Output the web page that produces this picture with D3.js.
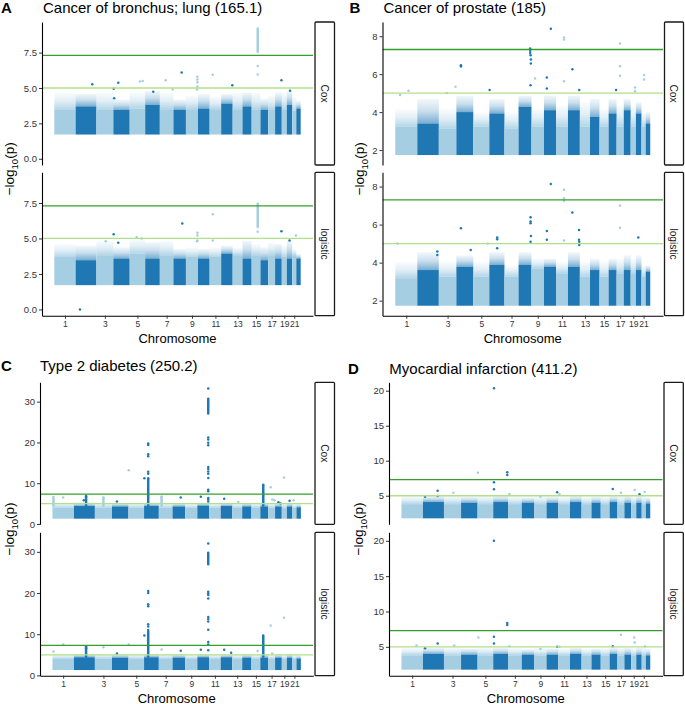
<!DOCTYPE html>
<html><head><meta charset="utf-8">
<script src="https://cdn.jsdelivr.net/npm/d3@7"></script>
<style>
body{margin:0;background:#fff}
svg{display:block}
text{font-family:"Liberation Sans",Arial,Helvetica,sans-serif}
</style>
</head><body>
<svg id="chart" width="685" height="704"></svg>
<script>
// ---------------- DATA ----------------
const chrLengthMb = [249,243,198,191,181,171,159,146,141,136,135,134,115,107,103,90,81,78,59,63,48,51];
const xTickChr = [1,3,5,7,9,11,13,15,17,19,21];
const facetNames = ["Cox","logistic"];
const genomeWideLine = 7.3;
const suggestiveLine = 5;
const panelLetters = ["A","B","C","D"];
const panelTitles = ["Cancer of bronchus; lung (165.1)","Cancer of prostate (185)","Type 2 diabetes (250.2)","Myocardial infarction (411.2)"];

const yTicksA = [0,2.5,5,7.5];
const yTicksB = [2,4,6,8];
const yTicksC = [0,10,20,30];
const yTicksD = [5,10,15,20];
const yDomainA = [-0.44,9.66];
const yDomainB = [1.21,8.75];
const yDomainC = [-0.08,34.75];
const yDomainD = [0.92,21.2];

// bottom of the dense cloud of SNPs (-log10 p)
const cloudFloorA = 1.8, cloudFloorB = 1.8, cloudFloorC = 1.6, cloudFloorD = 1.95;

// per chromosome: top of dense cloud, top of sparse fringe
const coreA_cox   = [3.45,3.7,3.45,3.45,3.55,3.8,3.5,3.45,3.5,3.55,3.5,3.9,3.5,3.7,3.5,3.45,3.5,3.7,3.5,3.8,3.4,3.55];
const fringeA_cox = [4.6,4.5,4.6,4.1,4.6,4.7,4.6,4.1,4.4,4.5,4.3,4.5,4.6,4.6,4.6,4.15,4.4,4.6,4.6,4.7,4.3,4.0];
const coreA_log   = [3.7,3.47,3.82,3.59,3.94,3.59,3.82,3.59,3.7,3.59,3.7,3.94,3.82,3.59,3.82,3.47,3.82,3.59,3.7,3.59,3.82,3.59];
const fringeA_log = [4.53,4.41,4.76,4.29,4.88,4.64,4.76,4.17,4.29,4.17,4.29,4.41,4.29,4.76,4.53,4.29,4.64,4.53,4.41,4.76,4.17,3.82];

const coreB_cox   = [3.23,3.4,3.14,4.0,3.23,3.93,3.14,4.28,3.23,4.1,3.23,4.1,3.23,3.75,3.23,3.93,3.23,4.1,3.23,3.93,3.23,3.4];
const fringeB_cox = [4.1,4.63,4.1,4.81,3.93,4.63,3.93,4.81,4.1,4.81,4.28,4.81,4.46,4.63,4.1,4.63,4.28,4.63,4.28,4.46,3.93,3.93];
const coreB_log   = [3.18,3.61,3.26,3.79,3.26,3.88,3.26,3.88,3.7,3.79,3.44,3.79,3.26,3.61,3.26,3.61,3.44,3.61,3.44,3.61,3.26,3.53];
const fringeB_log = [3.97,4.49,3.97,4.32,3.97,4.49,3.79,4.49,4.14,4.14,3.97,4.49,3.97,4.14,3.97,4.14,4.14,4.32,4.14,4.32,3.79,3.79];

const coreC_cox   = [4.0,4.4,4.0,4.3,4.0,4.4,4.0,4.3,4.0,4.5,4.0,4.4,4.0,4.3,4.0,4.3,4.0,4.3,4.0,4.3,4.0,4.1];
const fringeC_cox = [5.0,5.0,5.0,4.9,5.0,5.0,5.0,4.9,4.8,5.0,4.9,4.9,4.9,4.9,4.9,5.0,4.9,4.9,4.9,5.0,4.8,4.6];
const coreC_log   = [4.0,4.4,4.1,4.3,4.0,4.4,4.0,4.3,4.0,4.4,4.0,4.4,4.0,4.3,4.0,4.3,4.0,4.3,4.0,4.3,4.0,4.1];
const fringeC_log = [5.0,5.0,5.0,4.9,5.0,5.0,5.0,4.9,4.8,5.0,4.9,4.9,4.9,4.9,4.9,5.0,4.9,4.9,4.9,5.0,4.8,4.6];

const coreD_cox   = [3.8,4.1,3.8,4.0,3.8,4.1,3.8,4.0,3.8,4.0,3.8,4.1,3.8,4.0,3.8,4.1,3.8,4.0,3.8,4.0,3.8,3.9];
const fringeD_cox = [4.8,4.8,4.9,4.7,4.9,4.8,4.8,4.6,4.8,4.7,4.7,4.8,4.7,4.7,4.8,4.8,4.9,4.8,4.8,4.8,4.9,4.6];
const coreD_log   = [3.8,4.0,3.8,3.9,3.8,4.0,3.8,3.9,3.8,3.9,3.8,4.0,3.8,3.9,3.8,4.0,3.8,3.9,3.8,3.9,3.8,3.8];
const fringeD_log = [4.7,4.7,4.8,4.6,4.8,4.7,4.7,4.5,4.7,4.6,4.6,4.7,4.6,4.6,4.7,4.7,4.8,4.7,4.7,4.7,4.8,4.5];

// isolated SNPs above the cloud: [chromosome, fraction along chromosome, -log10 p]
const peaksA_cox = [[2,0.80,5.26],[4,0.02,4.95],[4,0.30,5.37],[4,0.05,4.27],[5,0.66,5.45],[5,0.84,5.5],[7,0.43,5.54],[7,0.94,4.9],[8,0.66,6.1],[9,0.95,5.8],[9,0.95,5.6],[9,0.95,5.4],[9,0.95,5.1],[9,0.92,4.9],[11,0.27,5.94],[12,0.97,5.19],[15,0.69,6.55],[15,0.69,5.95],[18,0.95,5.54],[20,0.6,4.8],[6,0.55,4.74]];
const peaksA_log = [[2,0.21,0.0],[4,0.02,5.3],[4,0.30,4.7],[3,0.55,4.8],[5,0.77,5.0],[5,0.45,5.1],[8,0.71,6.05],[9,0.95,5.4],[9,0.95,5.2],[9,0.95,4.85],[9,0.92,4.8],[11,0.27,6.7],[11,0.27,4.85],[15,0.69,5.47],[18,0.95,5.5],[21,0.9,5.2],[20,0.5,4.85]];
const peaksB_cox = [[8,0.9,7.35],[8,0.9,7.23],[8,0.9,7.12],[8,0.93,7.0],[8,0.95,6.77],[8,0.95,6.56],[8,0.93,5.42],[9,0.29,5.77],[10,0.57,8.4],[10,0.24,5.82],[10,0.24,5.25],[11,0.67,7.93],[11,0.67,7.83],[11,0.67,5.63],[12,0.37,6.26],[12,0.95,5.16],[4,0.27,6.47],[4,0.27,6.4],[3,0.95,5.33],[6,0.02,5.16],[17,0.48,7.62],[17,0.48,6.42],[17,0.48,5.91],[16,0.93,5.16],[21,0.6,5.95],[21,0.6,5.72],[19,0.83,5.3],[19,0.83,5.1],[1,0.6,5.12],[1,0.22,4.9],[3,0.46,5.0]];
const peaksB_log = [[10,0.57,8.13],[11,0.67,7.83],[11,0.67,7.39],[11,0.67,7.25],[11,0.67,5.16],[12,0.37,6.63],[12,0.93,5.72],[12,0.93,5.2],[12,0.95,5.1],[12,0.95,4.93],[4,0.27,5.81],[8,0.93,6.39],[8,0.93,6.16],[8,0.93,6.07],[8,0.96,5.4],[8,0.93,5.1],[10,0.24,5.67],[10,0.24,5.2],[6,0.52,5.32],[6,0.52,5.23],[6,0.52,4.76],[17,0.48,7.0],[17,0.48,5.84],[20,0.43,5.32],[5,0.9,5.0],[1,0.1,5.0],[2,0.93,4.58],[2,0.93,4.4],[4,0.85,4.66]];
const peaksC_cox = [[10,0.93,33.2],[10,0.93,21.2],[10,0.93,20.7],[10,0.93,19.9],[10,0.93,19.3],[10,0.93,14.0],[10,0.93,13.5],[10,0.93,12.9],[10,0.93,12.3],[10,0.93,11.3],[10,0.93,8.4],[10,0.93,8.0],[10,0.93,6.4],[10,0.93,6.0],[10,0.93,5.5],
  [6,0.28,19.75],[6,0.28,19.4],[6,0.28,17.1],[6,0.28,16.6],[6,0.28,12.8],[6,0.28,12.3],[6,0.28,11.2],
  [6,0.02,11.2],[5,0.02,13.2],[16,0.38,9.6],[17,0.37,9.0],[19,0.42,11.4],[2,0.58,6.7],[2,0.47,5.8],[1,0.5,6.5],[3,0.5,6.5],[4,0.3,5.5],[7,0.2,6.7],[8,0.65,6.5],[10,0.3,6.7],[12,0.3,6.2],[13,0.6,5.4],[17,0.6,6.0],[17,0.9,5.8],[18,0.5,5.3],[18,0.8,5.0],[20,0.5,5.7],[21,0.3,5.8]];
const peaksC_log = [[10,0.93,32.0],[10,0.93,20.3],[10,0.93,19.9],[10,0.93,19.5],[10,0.93,18.7],[10,0.93,14.2],[10,0.93,13.7],[10,0.93,13.1],[10,0.93,11.1],[10,0.93,8.1],[10,0.93,7.5],[10,0.93,6.1],
  [6,0.28,20.5],[6,0.28,20.0],[6,0.28,17.3],[6,0.28,16.8],[6,0.28,12.4],[6,0.28,11.9],[6,0.28,11.0],
  [6,0.02,9.7],[17,0.37,12.1],[19,0.42,14.0],[1,0.5,7.5],[5,0.02,7.5],[2,0.58,7.0],[2,0.58,6.5],[3,0.5,6.8],[7,0.2,6.3],[8,0.65,6.0],[10,0.3,6.2],[12,0.3,6.2],[12,0.9,5.5],[15,0.7,5.9],[17,0.6,5.3],[4,0.3,5.3],[1,0.05,5.8]];
const peaksD_cox = [[6,0.05,20.34],[6,0.05,6.91],[6,0.05,5.91],[6,0.95,8.34],[6,0.95,7.96],[5,0.02,8.29],[2,0.7,5.71],[2,0.7,4.96],[3,0.55,5.43],[7,0.1,5.24],[10,0.9,5.49],[16,0.4,5.96],[19,0.7,5.81],[17,0.5,5.43],[21,0.7,5.52],[20,0.6,5.2],[9,0.5,4.86],[2,0.1,4.86],[11,0.1,5.2]];
const peaksD_log = [[6,0.05,20.0],[6,0.05,6.43],[6,0.05,5.47],[6,0.95,8.39],[6,0.95,8.1],[5,0.05,6.33],[2,0.7,5.47],[17,0.5,6.71],[19,0.6,6.33],[19,0.7,5.6],[21,0.8,5.1],[1,0.7,5.2],[2,0.1,4.8],[3,0.6,5.2],[7,0.1,5.1],[10,0.9,5.0],[16,0.4,5.1],[9,0.5,4.7],[11,0.1,5.0]];

// densely stacked SNPs at one locus: [chromosome, fraction, lowest, highest]
const stacksA_cox = [[15,0.69,7.55,9.2]];
const stacksA_log = [[15,0.69,5.8,7.45]];
const stacksB_cox = [];
const stacksB_log = [];
const stacksC_cox = [[10,0.93,27.1,30.7],[6,0.28,4.5,10.9],[16,0.38,4.5,9.4],[2,0.58,4.5,6.9],[1,0.05,4.5,6.6],[7,0.2,4.5,6.7],[3,0.5,4.5,6.4]];
const stacksC_log = [[10,0.93,27.0,29.8],[6,0.28,4.5,10.6],[16,0.38,4.5,9.7],[2,0.58,4.5,6.8]];
const stacksD_cox = [];
const stacksD_log = [];

// ---------------- BUILD ----------------
const lightBlue = "#a6cee3", darkBlue = "#1f78b4";
const gwColor = "#33a02c", sugColor = "#b2df8a";
const chrStart = [];
chrLengthMb.reduce((acc, l, i) => { chrStart[i] = acc; return acc + l; }, 0);
const genomeLen = d3.sum(chrLengthMb);
const chrColor = c => (c % 2 === 1 ? lightBlue : darkBlue);
const genomePos = (c, f) => chrStart[c - 1] + f * chrLengthMb[c - 1];

const panels = [
  {letter: panelLetters[0], title: panelTitles[0], yDomain: yDomainA, yTicks: yTicksA, fmt: d3.format(".1f"), floor: cloudFloorA,
   facets: [{core: coreA_cox, fringe: fringeA_cox, peaks: peaksA_cox, stacks: stacksA_cox},
            {core: coreA_log, fringe: fringeA_log, peaks: peaksA_log, stacks: stacksA_log}],
   L: {x0: 42, x1: 313, s0: 315, s1: 334.5, rows: [[22,165],[172.3,315.7]], letterX: 1, titleX: 43, titleY: 12.5, yTitleX: 14, xTitleY: 343}},
  {letter: panelLetters[1], title: panelTitles[1], yDomain: yDomainB, yTicks: yTicksB, fmt: d3.format("d"), floor: cloudFloorB,
   facets: [{core: coreB_cox, fringe: fringeB_cox, peaks: peaksB_cox, stacks: stacksB_cox},
            {core: coreB_log, fringe: fringeB_log, peaks: peaksB_log, stacks: stacksB_log}],
   L: {x0: 382.5, x1: 663, s0: 664.5, s1: 683.5, rows: [[22,165],[172.3,315.7]], letterX: 349.5, titleX: 383.5, titleY: 12.5, yTitleX: 364, xTitleY: 343}},
  {letter: panelLetters[2], title: panelTitles[2], yDomain: yDomainC, yTicks: yTicksC, fmt: d3.format("d"), floor: cloudFloorC,
   facets: [{core: coreC_cox, fringe: fringeC_cox, peaks: peaksC_cox, stacks: stacksC_cox},
            {core: coreC_log, fringe: fringeC_log, peaks: peaksC_log, stacks: stacksC_log}],
   L: {x0: 40, x1: 313.3, s0: 315, s1: 334.5, rows: [[382.3,524.3],[532.3,675.7]], letterX: 1, titleX: 40, titleY: 370.7, yTitleX: 14, xTitleY: 702.5}},
  {letter: panelLetters[3], title: panelTitles[3], yDomain: yDomainD, yTicks: yTicksD, fmt: d3.format("d"), floor: cloudFloorD,
   facets: [{core: coreD_cox, fringe: fringeD_cox, peaks: peaksD_cox, stacks: stacksD_cox},
            {core: coreD_log, fringe: fringeD_log, peaks: peaksD_log, stacks: stacksD_log}],
   L: {x0: 389, x1: 662.7, s0: 664, s1: 683.3, rows: [[382.3,524.3],[532.3,675.7]], letterX: 348, titleX: 389.3, titleY: 373.5, yTitleX: 363, xTitleY: 702.5}}
];

const svg = d3.select("#chart");
svg.append("rect").attr("width", 685).attr("height", 704).attr("fill", "#fff");

const defs = svg.append("defs");
[["fadeLight", lightBlue, 0.85], ["fadeDark", darkBlue, 0.6]].forEach(([id, col, op]) => {
  const g = defs.append("linearGradient").attr("id", id).attr("x1", 0).attr("y1", 1).attr("x2", 0).attr("y2", 0);
  g.append("stop").attr("offset", 0).attr("stop-color", col).attr("stop-opacity", op);
  g.append("stop").attr("offset", 0.5).attr("stop-color", col).attr("stop-opacity", op * 0.4);
  g.append("stop").attr("offset", 1).attr("stop-color", col).attr("stop-opacity", 0.05);
});

const R = 1.25;

panels.forEach(p => {
  const L = p.L;
  const g = svg.append("g");
  const x = d3.scaleLinear().domain([-0.05 * genomeLen, 1.05 * genomeLen]).range([L.x0, L.x1]);

  // letter + title
  g.append("text").attr("x", L.letterX).attr("y", L.titleY).attr("font-size", 15).attr("font-weight", "bold").attr("fill", "#000").text(p.letter);
  g.append("text").attr("x", L.titleX).attr("y", L.titleY).attr("font-size", 15).attr("fill", "#000").text(p.title);

  p.facets.forEach((f, fi) => {
    const [top, bot] = L.rows[fi];
    const y = d3.scaleLinear().domain(p.yDomain).range([bot, top]);
    const fg = g.append("g");
    const clipId = "clip" + p.letter + fi;
    defs.append("clipPath").attr("id", clipId).append("rect").attr("x", L.x0).attr("y", top).attr("width", L.x1 - L.x0).attr("height", bot - top);
    const plot = fg.append("g").attr("clip-path", `url(#${clipId})`);

    // dense cloud per chromosome
    chrLengthMb.forEach((len, i) => {
      const c = i + 1;
      const xa = x(chrStart[i]), xb = x(chrStart[i] + len);
      const yf = y(p.floor) + R, yc = y(f.core[i]), yt = y(f.fringe[i]) - R;
      plot.append("rect").attr("x", xa).attr("y", yt).attr("width", xb - xa).attr("height", yc - yt)
        .attr("fill", `url(#${c % 2 ? "fadeLight" : "fadeDark"})`);
      plot.append("rect").attr("x", xa).attr("y", yc).attr("width", xb - xa).attr("height", yf - yc)
        .attr("fill", chrColor(c));
    });

    // stacked loci
    plot.selectAll("rect.stack").data(f.stacks).enter().append("rect").attr("class", "stack")
      .attr("x", d => x(genomePos(d[0], d[1])) - R)
      .attr("y", d => y(d[3]) - R)
      .attr("width", 2 * R)
      .attr("height", d => y(d[2]) - y(d[3]) + 2 * R)
      .attr("rx", R)
      .attr("fill", d => chrColor(d[0]));

    // isolated points
    plot.selectAll("circle").data(f.peaks).enter().append("circle")
      .attr("cx", d => x(genomePos(d[0], d[1])))
      .attr("cy", d => y(d[2]))
      .attr("r", R)
      .attr("fill", d => chrColor(d[0]));

    // significance lines
    [[suggestiveLine, sugColor], [genomeWideLine, gwColor]].forEach(([v, col]) => {
      plot.append("line").attr("x1", L.x0).attr("x2", L.x1).attr("y1", y(v)).attr("y2", y(v))
        .attr("stroke", col).attr("stroke-width", 1.3);
    });

    // y axis
    const ya = fg.append("g").attr("transform", `translate(${L.x0},0)`)
      .call(d3.axisLeft(y).tickValues(p.yTicks).tickFormat(p.fmt).tickSize(3).tickSizeOuter(0).tickPadding(2));
    ya.select(".domain").attr("stroke", "#000").attr("stroke-width", 1.1);
    ya.selectAll(".tick line").attr("stroke", "#333").attr("stroke-width", 1);
    ya.selectAll(".tick text").attr("font-size", 9.5).attr("fill", "#333").attr("font-family", '"Liberation Sans",Arial,sans-serif');

    // strip
    fg.append("rect").attr("x", L.s0).attr("y", top).attr("width", L.s1 - L.s0).attr("height", bot - top)
      .attr("fill", "#fff").attr("stroke", "#1a1a1a").attr("stroke-width", 1.3).attr("rx", 1);
    const sx = (L.s0 + L.s1) / 2, sy = (top + bot) / 2;
    fg.append("text").attr("transform", `translate(${sx},${sy}) rotate(90)`)
      .attr("text-anchor", "middle").attr("dy", "0.35em").attr("font-size", 10.2).attr("fill", "#1a1a1a")
      .text(facetNames[fi]);

    // x axis on bottom facet
    if (fi === 1) {
      const tickPos = xTickChr.map(c => chrStart[c - 1] + chrLengthMb[c - 1] / 2);
      const xa = fg.append("g").attr("transform", `translate(0,${bot})`)
        .call(d3.axisBottom(x).tickValues(tickPos).tickFormat((d, i) => xTickChr[i]).tickSize(3).tickSizeOuter(0).tickPadding(2.5));
      xa.select(".domain").attr("stroke", "#000").attr("stroke-width", 1.1);
      xa.selectAll(".tick line").attr("stroke", "#333");
      xa.selectAll(".tick text").attr("font-size", 8.5).attr("fill", "#333").attr("font-family", '"Liberation Sans",Arial,sans-serif');
    }
  });

  // axis titles
  const midY = (L.rows[0][0] + L.rows[1][1]) / 2;
  const yt = g.append("text").attr("transform", `translate(${L.yTitleX},${midY}) rotate(-90)`)
    .attr("text-anchor", "middle").attr("font-size", 13.5).attr("fill", "#000");
  yt.append("tspan").text("\u2212log");
  yt.append("tspan").attr("font-size", 9.5).attr("dy", 3.5).text("10");
  yt.append("tspan").attr("dy", -3.5).text("(p)");

  g.append("text").attr("x", (L.x0 + L.x1) / 2).attr("y", L.xTitleY).attr("text-anchor", "middle")
    .attr("font-size", 13).attr("fill", "#000").text("Chromosome");
});
</script>
</body></html>
